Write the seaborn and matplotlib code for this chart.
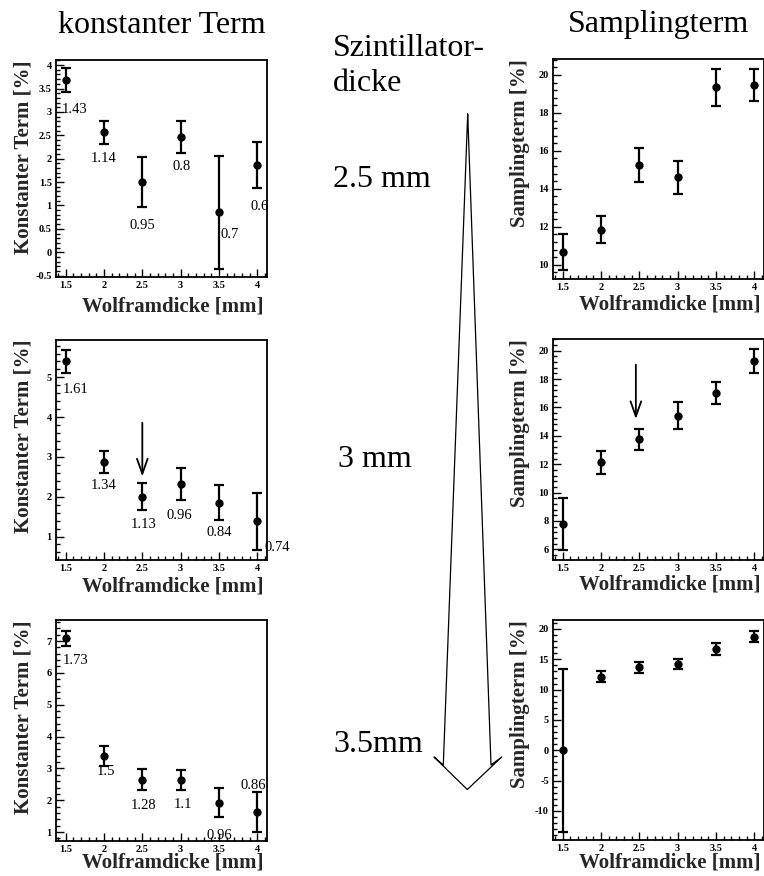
import matplotlib
matplotlib.use("Agg")
import matplotlib.pyplot as plt
from matplotlib.lines import Line2D
from matplotlib.ticker import AutoMinorLocator, MultipleLocator
import seaborn as sns
import pandas as pd

sns.set_theme(style="ticks")
plt.rcParams["font.family"] = ["Liberation Serif", "DejaVu Serif"]
plt.rcParams["mathtext.fontset"] = "stix"

# Wolfram thickness in mm (x axis, shared by every panel)
wolfram = [1.5, 2.0, 2.5, 3.0, 3.5, 4.0]
wolfram_ticks = ["1.5", "2", "2.5", "3", "3.5", "4"]

# constant term [%] per scintillator thickness
const_25 = [3.68, 2.56, 1.50, 2.47, 0.85, 1.87]
const_25_err = [0.25, 0.25, 0.53, 0.34, 1.21, 0.49]
const_25_chi = ["1.43", "1.14", "0.95", "0.8", "0.7", "0.6"]

const_30 = [5.40, 2.87, 2.00, 2.31, 1.85, 1.38]
const_30_err = [0.29, 0.28, 0.34, 0.40, 0.44, 0.71]
const_30_chi = ["1.61", "1.34", "1.13", "0.96", "0.84", "0.74"]

const_35 = [7.08, 3.39, 2.65, 2.63, 1.92, 1.63]
const_35_err = [0.25, 0.30, 0.32, 0.31, 0.46, 0.62]
const_35_chi = ["1.73", "1.5", "1.28", "1.1", "0.96", "0.86"]

# sampling term [%] per scintillator thickness
samp_25 = [10.67, 11.84, 15.26, 14.61, 19.35, 19.47]
samp_25_err = [0.93, 0.71, 0.88, 0.88, 0.98, 0.84]

samp_30 = [7.79, 12.14, 13.76, 15.41, 17.01, 19.25]
samp_30_err = [1.85, 0.81, 0.73, 0.95, 0.78, 0.85]

samp_35 = [0.0, 12.14, 13.68, 14.18, 16.70, 18.74]
samp_35_err = [13.4, 0.96, 0.90, 0.85, 0.96, 0.93]

scint_labels = ["2.5 mm", "3 mm", "3.5mm"]

# label placement (pixel offsets from each point to the left/centre of its text)
chi_offsets_25 = [(-4, -29), (-13, -26), (-13, -43), (-8, -30), (1, -22), (-7, -42)]
chi_offsets_30 = [(-3, -28), (-13, -23), (-12, -28), (-14, -31), (-13, -30), (7, -26)]
chi_offsets_35 = [(-3, -22), (-7, -16), (-12, -26), (-7, -24), (-13, -33), (-17, 27)]

W, H = 764, 876
fig = plt.figure(figsize=(W / 100, H / 100), dpi=100)


def rect(left, right, top, bottom):
    return [left / W, 1 - bottom / H, (right - left) / W, (bottom - top) / H]


def panel(px, values, errors, ylim, ystep, ylabel, xlabel_gap):
    left, right, top, bottom = px
    ax = fig.add_axes(rect(left, right, top, bottom))
    df = pd.DataFrame({"w": wolfram, "v": values, "e": errors})
    ax.errorbar(df["w"], df["v"], yerr=df["e"], fmt="none", ecolor="black",
                elinewidth=1.6, capsize=3.6, capthick=1.6, zorder=2)
    sns.scatterplot(data=df, x="w", y="v", ax=ax, color="black", s=36,
                    edgecolor="black", linewidth=0, zorder=3, legend=False)
    ax.set_xlim(1.375, 4.125)
    ax.set_ylim(*ylim)
    ax.set_xticks(wolfram)
    ax.set_xticklabels(wolfram_ticks)
    ax.yaxis.set_major_locator(MultipleLocator(ystep))
    ax.yaxis.set_major_formatter(lambda v, pos: "0" if abs(v) < 1e-9 else f"{v:g}")
    ax.xaxis.set_minor_locator(AutoMinorLocator(5))
    ax.yaxis.set_minor_locator(AutoMinorLocator(5))
    ax.tick_params(which="both", direction="in", top=False, right=False,
                   colors="black", width=1.0)
    ax.tick_params(which="major", length=6, labelsize=7.5, pad=3)
    ax.tick_params(which="minor", length=3)
    for lbl in ax.get_xticklabels() + ax.get_yticklabels():
        lbl.set_fontweight("bold")
    for sp in ax.spines.values():
        sp.set_linewidth(1.3)
        sp.set_color("black")
    ax.set_xlabel("Wolframdicke [mm]", fontsize=15, fontweight="bold", loc="right")
    ax.xaxis.set_label_coords(0.985, -xlabel_gap / (bottom - top))
    ax.xaxis.label.set_va("center")
    ax.set_ylabel(ylabel, fontsize=15, fontweight="bold", loc="top")
    ax.yaxis.set_label_coords(-0.155, 1.0)
    ax.yaxis.label.set_va("center")
    ax.grid(False)
    return ax


def chi_labels(ax, values, texts, offsets):
    for x, y, t, (dx, dy) in zip(wolfram, values, texts, offsets):
        ax.annotate(t, (x, y), xytext=(dx, dy), textcoords="offset pixels",
                    ha="left", va="center", fontsize=10.5, color="black",
                    annotation_clip=False)


ax1 = panel((56, 267, 60, 277), const_25, const_25_err, (-0.53, 4.11), 0.5,
            "Konstanter Term [%]", 29.7)
chi_labels(ax1, const_25, const_25_chi, chi_offsets_25)

ax2 = panel((56, 267, 340, 560), const_30, const_30_err, (0.41, 5.94), 1,
            "Konstanter Term [%]", 26.7)
chi_labels(ax2, const_30, const_30_chi, chi_offsets_30)
ax2.annotate("", xy=(2.5, 2.51), xytext=(2.5, 3.86),
             arrowprops=dict(arrowstyle="->,head_length=0.9,head_width=0.32",
                             lw=1.3, color="black", shrinkA=0, shrinkB=0))

ax3 = panel((56, 267, 620, 841), const_35, const_35_err, (0.72, 7.66), 1,
            "Konstanter Term [%]", 22)
chi_labels(ax3, const_35, const_35_chi, chi_offsets_35)

ax4 = panel((553, 764, 59, 279), samp_25, samp_25_err, (9.25, 20.84), 2,
            "Samplingterm [%]", 26)
ax5 = panel((553, 764, 339, 560), samp_30, samp_30_err, (5.25, 20.82), 2,
            "Samplingterm [%]", 25)
ax5.annotate("", xy=(2.455, 15.18), xytext=(2.455, 19.01),
             arrowprops=dict(arrowstyle="->,head_length=0.9,head_width=0.32",
                             lw=1.3, color="black", shrinkA=0, shrinkB=0))
ax6 = panel((553, 764, 620, 840), samp_35, samp_35_err, (-14.78, 21.48), 5,
            "Samplingterm [%]", 23)


# column headings and scintillator thickness annotations
def ftext(x, y, s, ha="left"):
    fig.text(x / W, 1 - y / H, s, ha=ha, va="baseline", fontsize=23, color="black")


ftext(162, 33, "konstanter Term", ha="center")
ftext(659, 32, "Samplingterm", ha="center")
ftext(333, 56, "Szintillator-")
ftext(333, 91, "dicke")
ftext(333, 187, scint_labels[0])
ftext(338, 467, scint_labels[1])
ftext(333, 752, scint_labels[2])

# large tapering arrow indicating increasing scintillator thickness
arrow_px = [(467.7, 114), (491, 765), (501.7, 757), (467.3, 789.5),
            (434, 757), (443.3, 765), (467.7, 114)]
fig.add_artist(Line2D([p[0] / W for p in arrow_px], [1 - p[1] / H for p in arrow_px],
                      transform=fig.transFigure, color="black", lw=0.9))

fig.savefig("out.png", dpi=100, facecolor="white")
